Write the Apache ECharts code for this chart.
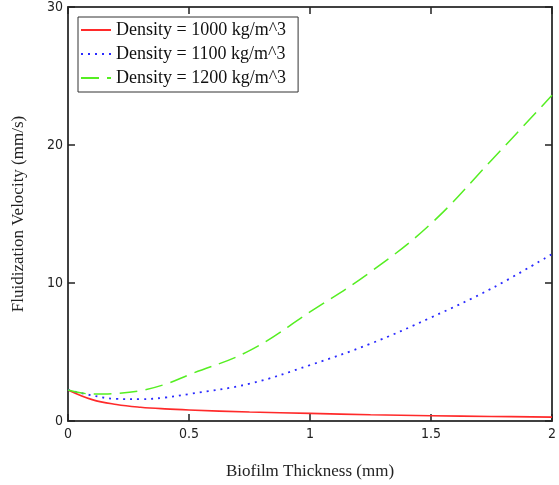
<!DOCTYPE html>
<html>
<head>
<meta charset="utf-8">
<script src="https://cdn.jsdelivr.net/npm/echarts@6/dist/echarts.min.js"></script>
<style>
html,body{margin:0;padding:0;background:#fff;}
#c{width:559px;height:485px;}
</style>
</head>
<body>
<div id="c"></div>
<script>
// Biofilm thickness (mm)
var thickness = [0, 0.1, 0.2, 0.3, 0.4, 0.5, 0.75, 1.0, 1.25, 1.5, 1.75, 2.0];
// Fluidization velocity (mm/s)
var density1000 = [2.25, 1.55, 1.2, 1.0, 0.88, 0.8, 0.65, 0.55, 0.45, 0.38, 0.33, 0.28];
var density1100 = [2.25, 1.85, 1.6, 1.58, 1.7, 1.95, 2.7, 4.05, 5.6, 7.5, 9.6, 12.1];
var density1200 = [2.25, 1.95, 2.0, 2.2, 2.65, 3.35, 5.1, 7.9, 10.8, 14.3, 18.9, 23.6];
var seriesNames = ['Density = 1000 kg/m^3', 'Density = 1100 kg/m^3', 'Density = 1200 kg/m^3'];
var xTicks = [0, 0.5, 1, 1.5, 2];
var yTicks = [0, 10, 20, 30];

function pairs(ys){ return thickness.map(function(x,i){ return [x, ys[i]]; }); }

var serif = '"Liberation Serif", "Times New Roman", serif';
var tickFont = '"DejaVu Sans Condensed", "Liberation Sans", Arial, sans-serif';
var axisCol = '#404040';

var chart = echarts.init(document.getElementById('c'), null, {renderer:'canvas'});
chart.setOption({
  animation: false,
  backgroundColor: '#fff',
  grid: {left: 68, right: 2, top: 7, bottom: 64},
  legend: {
    orient: 'vertical', left: 78, top: 17,
    backgroundColor: '#fff', borderColor: '#333', borderWidth: 1,
    padding: [4, 12, 5, 2],
    itemWidth: 30, itemHeight: 12, itemGap: 6,
    itemStyle: {opacity: 0},
    textStyle: {fontFamily: serif, fontSize: 18, color: '#111'},
    data: seriesNames
  },
  xAxis: [{
    type: 'value', min: xTicks[0], max: xTicks[xTicks.length-1], interval: 0.5,
    name: 'Biofilm Thickness (mm)', nameLocation: 'middle', nameGap: 42,
    nameTextStyle: {fontFamily: serif, fontSize: 17, color: '#222'},
    axisLine: {onZero: false, lineStyle: {color: axisCol, width: 2}},
    axisTick: {inside: true, length: 7, lineStyle: {color: '#222', width: 1.5}},
    axisLabel: {fontFamily: tickFont, fontSize: 14, color: '#222', margin: 6,
      formatter: function(v){ return String(v); }},
    splitLine: {show: false}
  },{
    type: 'value', position: 'top', min: 0, max: 2, interval: 0.5,
    axisLine: {onZero: false, lineStyle: {color: axisCol, width: 2}},
    axisTick: {inside: true, length: 7, lineStyle: {color: '#222', width: 1.5}},
    axisLabel: {show: false}, splitLine: {show: false}
  }],
  yAxis: [{
    type: 'value', min: yTicks[0], max: yTicks[yTicks.length-1], interval: 10,
    name: 'Fluidization Velocity (mm/s)', nameLocation: 'middle', nameGap: 41,
    nameTextStyle: {fontFamily: serif, fontSize: 17, color: '#222'},
    axisLine: {show: true, onZero: false, lineStyle: {color: axisCol, width: 2}},
    axisTick: {show: true, inside: true, length: 7, lineStyle: {color: '#222', width: 1.5}},
    axisLabel: {fontFamily: tickFont, fontSize: 14, color: '#222', margin: 5},
    splitLine: {show: false}
  },{
    type: 'value', position: 'right', min: 0, max: 30, interval: 10,
    axisLine: {show: true, onZero: false, lineStyle: {color: axisCol, width: 2}},
    axisTick: {show: true, inside: true, length: 7, lineStyle: {color: '#222', width: 1.5}},
    axisLabel: {show: false}, splitLine: {show: false}
  }],
  series: [{
    name: seriesNames[0], type: 'line', data: pairs(density1000), smooth: 0.4,
    symbol: 'none', lineStyle: {color: '#ff2a2a', width: 1.6, type: 'solid'},
    itemStyle: {color: '#ff2a2a'}
  },{
    name: seriesNames[1], type: 'line', data: pairs(density1100), smooth: 0.4,
    symbol: 'none', lineStyle: {color: '#2a2aff', width: 1.8, type: [2, 5]},
    itemStyle: {color: '#2a2aff'}
  },{
    name: seriesNames[2], type: 'line', data: pairs(density1200), smooth: 0.4,
    symbol: 'none', lineStyle: {color: '#55ee22', width: 1.5, type: [18, 8]},
    itemStyle: {color: '#55ee22'}
  }]
});
</script>
</body>
</html>
